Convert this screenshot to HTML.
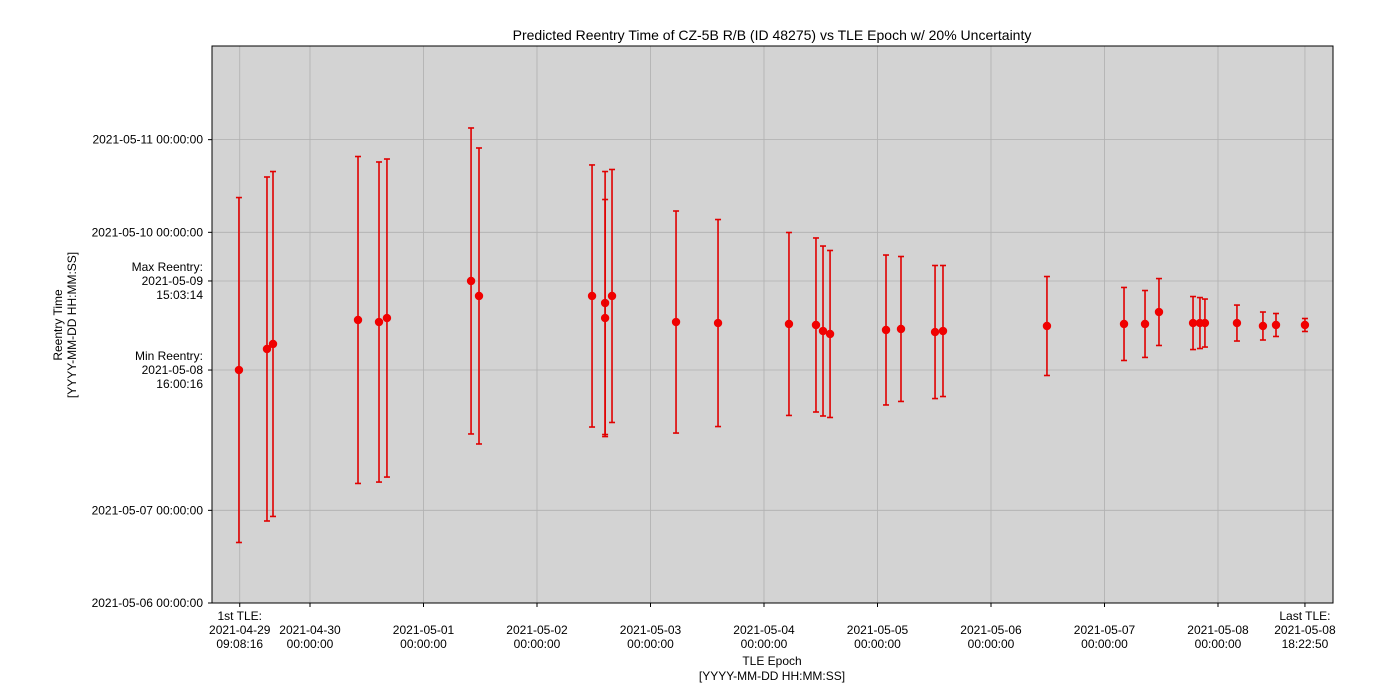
<!DOCTYPE html>
<html><head><meta charset="utf-8"><style>
body{margin:0;background:#fff;}
svg{display:block;font-family:"Liberation Sans",sans-serif;}
</style></head><body>
<svg id="chart" width="1400" height="699">
<text x="772" y="40" text-anchor="middle" font-size="14">Predicted Reentry Time of CZ-5B R/B (ID 48275) vs TLE Epoch w/ 20% Uncertainty</text>
<rect x="212" y="46" width="1121" height="557" fill="#d3d3d3"/>
<g id="grid"></g><g id="marks"></g>
<rect x="212" y="46" width="1121" height="557" fill="none" stroke="#000" stroke-width="1"/>
<g id="axes" font-size="12"></g>
<text x="772" y="665" text-anchor="middle" font-size="12"><tspan x="772">TLE Epoch</tspan><tspan x="772" dy="15">[YYYY-MM-DD HH:MM:SS]</tspan></text>
<text transform="translate(62,325) rotate(-90)" text-anchor="middle" font-size="12"><tspan x="0">Reentry Time</tspan><tspan x="0" dy="14">[YYYY-MM-DD HH:MM:SS]</tspan></text>
</svg>
<script>
// x: days since 2021-04-29 00:00; y: days since 2021-05-06 00:00
const epochs=[0.374,0.621,0.674,1.423,1.608,1.678,2.419,2.489,3.485,3.6,3.6,3.661,4.225,4.595,5.22,5.458,5.52,5.582,6.075,6.207,6.507,6.577,7.493,8.172,8.357,8.48,8.78,8.841,8.885,9.167,9.396,9.511,9.766];
const reentry=[2.514,2.741,2.795,3.054,3.032,3.075,3.475,3.313,3.313,3.237,3.075,3.313,3.032,3.021,3.011,3.0,2.935,2.903,2.946,2.957,2.924,2.935,2.989,3.011,3.011,3.14,3.021,3.021,3.021,3.021,2.989,3.0,3.0];
const uncert=[1.861,1.856,1.861,1.764,1.727,1.716,1.651,1.597,1.414,1.419,1.279,1.365,1.198,1.117,0.987,0.939,0.917,0.901,0.809,0.782,0.718,0.707,0.534,0.394,0.361,0.361,0.286,0.275,0.259,0.194,0.151,0.124,0.070];
const xTicks=[0.381,1,2,3,4,5,6,7,8,9,9.766];
const xTickLabels=[["1st TLE:","2021-04-29","09:08:16"],["2021-04-30","00:00:00"],["2021-05-01","00:00:00"],["2021-05-02","00:00:00"],["2021-05-03","00:00:00"],["2021-05-04","00:00:00"],["2021-05-05","00:00:00"],["2021-05-06","00:00:00"],["2021-05-07","00:00:00"],["2021-05-08","00:00:00"],["Last TLE:","2021-05-08","18:22:50"]];
const yTicks=[0,1,2.514,3.475,4,5];
const yTickLabels=[["2021-05-06 00:00:00"],["2021-05-07 00:00:00"],["Min Reentry:","2021-05-08","16:00:16"],["Max Reentry:","2021-05-09","15:03:14"],["2021-05-10 00:00:00"],["2021-05-11 00:00:00"]];
const NS="http://www.w3.org/2000/svg";
const X=d=>196.5+d*113.5, Y=v=>603-v*92.67;
function mk(tag,attrs,parent){const e=document.createElementNS(NS,tag);for(const k in attrs)e.setAttribute(k,attrs[k]);parent.appendChild(e);return e;}
const grid=document.getElementById('grid'),marks=document.getElementById('marks'),axes=document.getElementById('axes');
xTicks.forEach((t,i)=>{
 const x=X(t);
 const g=mk('line',{x1:x,x2:x,y1:46,y2:603,stroke:'#b0b0b0','stroke-width':0.8},grid);
 
 
 const tk=mk('line',{x1:x,x2:x,y1:603,y2:607,stroke:'#000'},axes);
 
 
 const lines=xTickLabels[i];
 const tx=mk('text',{'text-anchor':'middle'},axes);
 
 
 const y0=lines.length===3?620:634;
 lines.forEach((s,j)=>{const ts=mk('tspan',{x:x,y:y0+j*14},tx);ts.textContent=s;});
});
yTicks.forEach((t,i)=>{
 const y=Y(t);
 const g=mk('line',{x1:212,x2:1333,y1:y,y2:y,stroke:'#b0b0b0','stroke-width':0.8},grid);
 
 
 const tk=mk('line',{x1:208,x2:212,y1:y,y2:y,stroke:'#000'},axes);
 
 
 const lines=yTickLabels[i];
 const tx=mk('text',{'text-anchor':'end'},axes);
 
 
 const y0=y+4-(lines.length-1)*7;
 lines.forEach((s,j)=>{const ts=mk('tspan',{x:203,y:y0+j*14},tx);ts.textContent=s;});
});
epochs.forEach((d,i)=>{
 const x=X(d),yc=Y(reentry[i]),yt=Y(reentry[i]+uncert[i]),yb=Y(reentry[i]-uncert[i]);
 const g=mk('g',{},marks);
 
 
 mk('line',{x1:x,x2:x,y1:yt,y2:yb,stroke:'#e00000','stroke-width':1.6},g);
 mk('line',{x1:x-3,x2:x+3,y1:yt,y2:yt,stroke:'#e00000','stroke-width':1.6},g);
 mk('line',{x1:x-3,x2:x+3,y1:yb,y2:yb,stroke:'#e00000','stroke-width':1.6},g);
 mk('circle',{cx:x,cy:yc,r:4.2,fill:'#f00000'},g);
});
</script>
</body></html>
